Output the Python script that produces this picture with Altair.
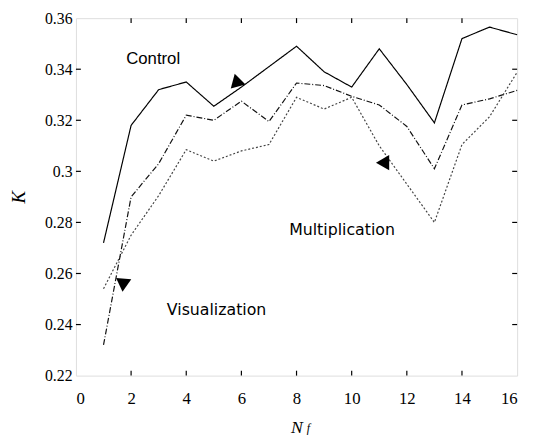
import altair as alt
import pandas as pd

n_f = list(range(1, 17))
control = [0.272, 0.318, 0.332, 0.335, 0.3255, 0.333, 0.341, 0.349, 0.339, 0.333, 0.348, 0.334, 0.319, 0.352, 0.3565, 0.3535]
multiplication = [0.232, 0.290, 0.303, 0.322, 0.320, 0.3275, 0.3195, 0.3346, 0.3336, 0.3294, 0.326, 0.3176, 0.301, 0.326, 0.3284, 0.3317]
visualization = [0.254, 0.275, 0.2905, 0.3085, 0.304, 0.308, 0.3105, 0.329, 0.3244, 0.329, 0.31, 0.295, 0.280, 0.3105, 0.3214, 0.3388]

series_names = ["Control", "Multiplication", "Visualization"]
x_ticks = [0, 2, 4, 6, 8, 10, 12, 14, 16]
y_ticks = [0.22, 0.24, 0.26, 0.28, 0.30, 0.32, 0.34, 0.36]
inner_x_ticks = [2, 4, 6, 8, 10, 12, 14]
inner_y_ticks = [0.24, 0.26, 0.28, 0.30, 0.32, 0.34]

ctrl_label = ["Control"]
ctrl_x = [2.8]
ctrl_y = [0.3438]
other_labels = ["Multiplication", "Visualization"]
other_x = [9.65, 5.1]
other_y = [0.277, 0.2455]

arrow_x = [5.82, 11.12, 1.71]
arrow_y = [0.3357, 0.3034, 0.2554]
arrow_shape = ["triangle-up", "triangle-left", "triangle-down"]
arrow_angle = [345, 0, 5]

W, H = 448, 363
SERIF = "Liberation Serif, Times New Roman, Times, serif"

rows = []
for name, vals in zip(series_names, [control, multiplication, visualization]):
    for x, v in zip(n_f, vals):
        rows.append({"n": x, "k": v, "series": name})
df = pd.DataFrame(rows)

xs = alt.Scale(domain=[0, 16], nice=False, zero=False)
ys = alt.Scale(domain=[0.22, 0.36], nice=False, zero=False)

lines = alt.Chart(df).mark_line(strokeWidth=1.2).encode(
    x=alt.X("n:Q", scale=xs,
            axis=alt.Axis(values=x_ticks, ticks=False, tickSize=0, domain=False, grid=False,
                          labelFont=SERIF, labelFontSize=17, labelColor="black",
                          labelPadding=15, title="N", titleFont=SERIF,
                          titleFontStyle="italic", titleFontWeight="normal", titleFontSize=18,
                          titleColor="black", titlePadding=13)),
    y=alt.Y("k:Q", scale=ys,
            axis=alt.Axis(values=y_ticks, ticks=False, tickSize=0, domain=False, grid=False,
                          labelExpr="format(datum.value, '.2~f')",
                          labelFont=SERIF, labelFontSize=16, labelColor="black",
                          labelPadding=4, title="K", titleFont=SERIF,
                          titleFontStyle="italic", titleFontWeight="normal", titleFontSize=19,
                          titleColor="black", titlePadding=16)),
    color=alt.Color("series:N", scale=alt.Scale(domain=series_names, range=["#000000", "#111111", "#444444"]), legend=None),
    strokeDash=alt.StrokeDash("series:N", scale=alt.Scale(domain=series_names, range=[[1, 0], [6, 2, 1, 2], [2, 2]]), legend=None),
    strokeWidth=alt.StrokeWidth("series:N", scale=alt.Scale(domain=series_names, range=[1.5, 1.1, 0.9]), legend=None),
    detail="series:N",
)

labels1 = alt.Chart(pd.DataFrame({"t": ctrl_label, "x": ctrl_x, "y": ctrl_y})).mark_text(
    font="Liberation Sans", fontSize=17, color="black").encode(
    x=alt.X("x:Q", scale=xs), y=alt.Y("y:Q", scale=ys), text="t:N")
labels2 = alt.Chart(pd.DataFrame({"t": other_labels, "x": other_x, "y": other_y})).mark_text(
    font="DejaVu Sans", fontSize=16, color="black").encode(
    x=alt.X("x:Q", scale=xs), y=alt.Y("y:Q", scale=ys), text="t:N")

arr_df = pd.DataFrame({"x": arrow_x, "y": arrow_y, "s": arrow_shape, "a": arrow_angle})
arrows = alt.Chart(arr_df).mark_point(filled=True, color="black", size=240, opacity=1).encode(
    x=alt.X("x:Q", scale=xs), y=alt.Y("y:Q", scale=ys),
    shape=alt.Shape("s:N", scale=None), angle=alt.Angle("a:Q", scale=None)
)

xt = pd.DataFrame({"v": inner_x_ticks})
yt = pd.DataFrame({"v": inner_y_ticks})
tick_b = alt.Chart(xt).mark_rule(color="black", strokeWidth=1.2).encode(
    x=alt.X("v:Q", scale=xs), y=alt.value(H), y2=alt.value(H - 5))
tick_t = alt.Chart(xt).mark_rule(color="black", strokeWidth=1.2).encode(
    x=alt.X("v:Q", scale=xs), y=alt.value(0), y2=alt.value(5))
tick_l = alt.Chart(yt).mark_rule(color="black", strokeWidth=1.2).encode(
    y=alt.Y("v:Q", scale=ys), x=alt.value(0), x2=alt.value(5))
tick_r = alt.Chart(yt).mark_rule(color="black", strokeWidth=1.2).encode(
    y=alt.Y("v:Q", scale=ys), x=alt.value(W), x2=alt.value(W - 5))

sub = alt.Chart(pd.DataFrame({"t": ["f"]})).mark_text(
    font=SERIF, fontStyle="italic", fontSize=12, color="black", clip=False, baseline="alphabetic"
).encode(x=alt.value(236), y=alt.value(H + 57), text="t:N")

chart = alt.layer(tick_b, tick_t, tick_l, tick_r, lines, labels1, labels2, arrows, sub).properties(
    width=W, height=H,
    autosize=alt.AutoSizeParams(type="none"),
    padding={"left": 69, "top": 7, "right": 8, "bottom": 58},
).configure_view(stroke="black", strokeWidth=1.5).configure(background="white")

chart.save("out.html", embed_options={"renderer": "svg", "actions": False})
